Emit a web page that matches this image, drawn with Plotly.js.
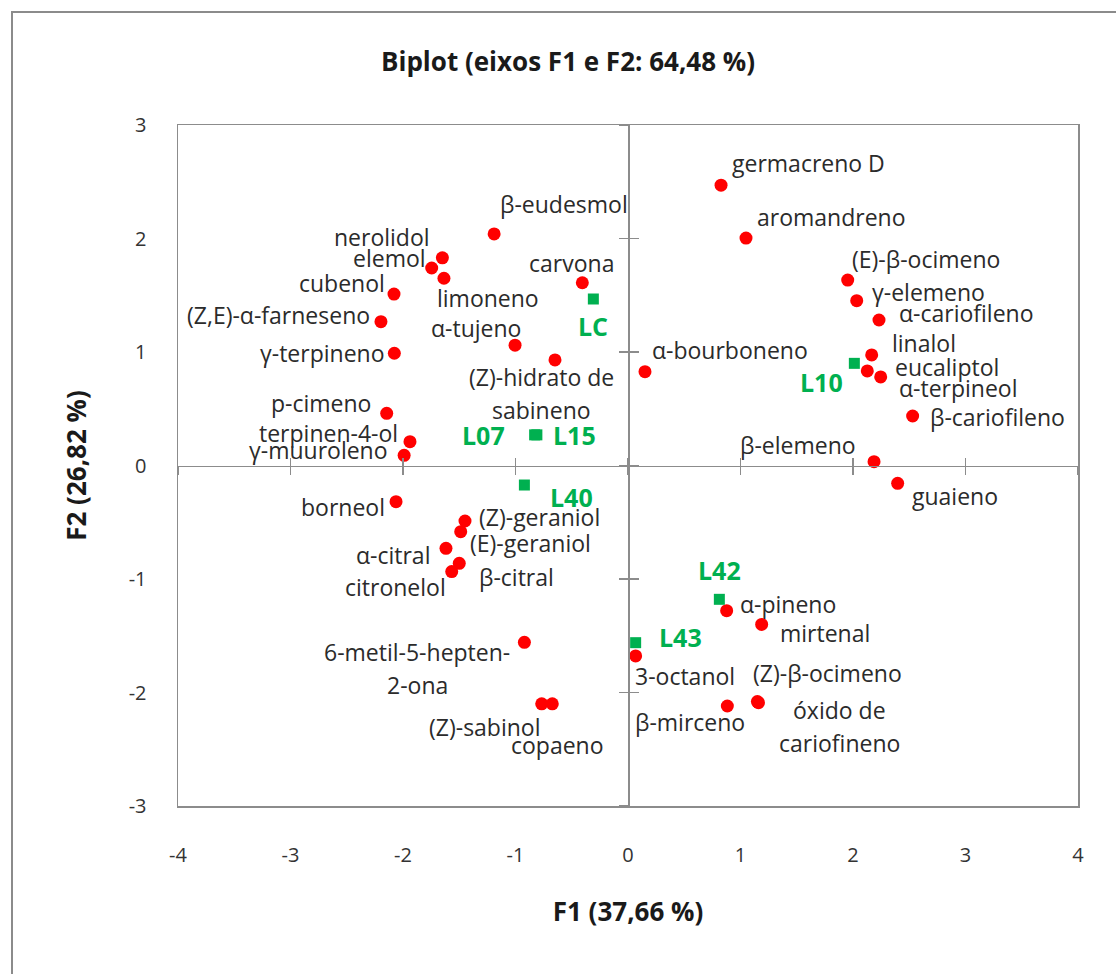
<!DOCTYPE html>
<html>
<head>
<meta charset="utf-8">
<script src="https://cdn.plot.ly/plotly-3.0.1.min.js"></script>
<style>
  html, body { margin: 0; padding: 0; background: #fff; overflow: hidden; }
  #chart { position: absolute; left: 0; top: 0; width: 1116px; height: 974px; }
  #frame { position: absolute; left: 11px; top: 11px; width: 1200px; height: 1100px;
           border: 2px solid #8b8b8b; pointer-events: none; }
</style>
</head>
<body>
<div id="chart"></div>
<div id="frame"></div>
<script>
// ---- data: variables (compounds) ----
const compounds = [
  'germacreno D', 'aromandreno', 'β-eudesmol', 'nerolidol', 'elemol', 'limoneno',
  'cubenol', '(Z,E)-α-farneseno', 'γ-terpineno', 'p-cimeno', 'terpinen-4-ol', 'γ-muuroleno',
  'carvona', 'α-tujeno', '(Z)-hidrato de<br>sabineno', 'α-bourboneno', '(E)-β-ocimeno', 'γ-elemeno',
  'α-cariofileno', 'linalol', 'eucaliptol', 'α-terpineol', 'β-cariofileno', 'β-elemeno',
  'guaieno', 'borneol', '(Z)-geraniol', '(E)-geraniol', 'α-citral', 'β-citral',
  'citronelol', '6-metil-5-hepten-<br>2-ona', '(Z)-sabinol', 'copaeno', 'α-pineno', 'mirtenal',
  '3-octanol', '(Z)-β-ocimeno', 'β-mirceno', 'óxido de<br>cariofineno'
];
const compF1 = [
  0.827, 1.049, -1.19, -1.65, -1.745, -1.636,
  -2.08, -2.196, -2.077, -2.145, -1.938, -1.99,
  -0.406, -1.004, -0.649, 0.151, 1.953, 2.033,
  2.231, 2.166, 2.127, 2.246, 2.53, 2.187,
  2.397, -2.062, -1.449, -1.487, -1.618, -1.5,
  -1.567, -0.921, -0.767, -0.673, 0.877, 1.188,
  0.068, 1.15, 0.883, 1.16
];
const compF2 = [
  2.47, 2.004, 2.04, 1.83, 1.74, 1.65,
  1.51, 1.267, 0.989, 0.46, 0.21, 0.09,
  1.61, 1.06, 0.93, 0.827, 1.634, 1.452,
  1.282, 0.974, 0.833, 0.78, 0.436, 0.034,
  -0.157, -0.319, -0.489, -0.583, -0.73, -0.862,
  -0.935, -1.558, -2.10, -2.10, -1.279, -1.40,
  -1.678, -2.08, -2.119, -2.09
];

// ---- data: observations (samples) ----
const samples = ['LC', 'L10', 'L07', 'L15', 'L40', 'L42', 'L43'];
const sampF1 = [-0.308, 2.012, -0.83, -0.81, -0.921, 0.812, 0.068];
const sampF2 = [1.467, 0.90, 0.27, 0.27, -0.172, -1.179, -1.561];

// ---- axis ticks ----
const xTicks = [-4, -3, -2, -1, 0, 1, 2, 3, 4];
const yTicks = [-3, -2, -1, 0, 1, 2, 3];

// ---- label placement (style: anchor, pixel shifts) ----
const compLabelPlace = [
  ['l', 9, 22], ['l', 9, 21], ['l', 4, 30], ['r', -10, 21], ['r', -4, 10], ['l', -9, -20],
  ['r', -7, 11], ['r', -9, 7], ['r', -7, 0], ['r', -14, 10], ['r', -10, 9], ['r', -14, 5],
  ['c', -11, 20], ['r', 8, 17], ['c', -13, -17], ['l', 5, 22], ['l', 2, 21], ['l', 13, 9],
  ['l', 18, 7], ['l', 18, 12], ['l', 26, 4], ['l', 16, -11], ['l', 15, -1], ['r', -16, 17],
  ['l', 12, -13], ['r', -9, -5], ['l', 12, 4], ['l', 7, -11], ['r', -14, -7], ['l', 18, -14],
  ['r', -4, -15], ['c', -107, -10], ['r', 1, -23], ['c', 5, -41], ['l', 11, 7], ['l', 16, -9],
  ['l', -3, -20], ['l', -6, 29], ['c', -37, -16], ['c', 81, -7]
];
const sampLabelPlace = [
  ['c', 0, -27], ['r', -9, -19], ['r', -28, 0], ['l', 14, 0], ['l', 24, -12], ['c', 0, 29], ['l', 21, 6]
];

const FONT = 'Open Sans, Liberation Sans, sans-serif';
const LINE_GAP = 33;
const anchorMap = { l: 'left', r: 'right', c: 'center' };

function buildLabels(names, xs, ys, places, color, size, bold) {
  const out = [];
  names.forEach((name, i) => {
    const [a, dx, dy] = places[i];
    const lines = name.split('<br>');
    lines.forEach((line, k) => {
      out.push({
        x: xs[i], y: ys[i], xref: 'x', yref: 'y',
        text: bold ? '<b>' + line + '</b>' : line,
        showarrow: false,
        xanchor: anchorMap[a], yanchor: 'middle',
        xshift: dx, yshift: dy - k * LINE_GAP,
        font: { family: FONT, size: size, color: color }
      });
    });
  });
  return out;
}

const annotations = []
  .concat(buildLabels(compounds, compF1, compF2, compLabelPlace, '#2b2b2b', 23, false))
  .concat(buildLabels(samples, sampF1, sampF2, sampLabelPlace, '#00b050', 25, true));

const axisColor = '#8c8c8c';

const traces = [
  {
    type: 'scatter', mode: 'markers', name: 'Variáveis',
    x: compF1, y: compF2, text: compounds,
    marker: { color: '#ff0000', size: 13, symbol: 'circle' },
    hoverinfo: 'text+x+y'
  },
  {
    type: 'scatter', mode: 'markers', name: 'Observações',
    x: sampF1, y: sampF2, text: samples,
    marker: { color: '#00b050', size: 11, symbol: 'square' },
    hoverinfo: 'text+x+y'
  },
  { type: 'scatter', x: [], y: [], xaxis: 'x2', yaxis: 'y', showlegend: false, hoverinfo: 'skip' },
  { type: 'scatter', x: [], y: [], xaxis: 'x3', yaxis: 'y', showlegend: false, hoverinfo: 'skip' },
  { type: 'scatter', x: [], y: [], xaxis: 'x', yaxis: 'y2', showlegend: false, hoverinfo: 'skip' },
  { type: 'scatter', x: [], y: [], xaxis: 'x', yaxis: 'y3', showlegend: false, hoverinfo: 'skip' }
];

const centerAxisX = (dir) => ({
  overlaying: 'x', anchor: 'free', position: 0.5, range: [-4, 4],
  tickmode: 'array', tickvals: xTicks,
  showline: true, linecolor: axisColor, linewidth: 1.5,
  ticks: dir, ticklen: 8, tickwidth: 1.5, tickcolor: axisColor,
  showticklabels: false, showgrid: false, zeroline: false, fixedrange: true
});
const centerAxisY = (dir) => ({
  overlaying: 'y', anchor: 'free', position: 0.5, range: [-3, 3],
  tickmode: 'array', tickvals: yTicks,
  showline: true, linecolor: axisColor, linewidth: 1.5,
  ticks: dir, ticklen: 9, tickwidth: 1.5, tickcolor: axisColor,
  showticklabels: false, showgrid: false, zeroline: false, fixedrange: true
});

const layout = {
  width: 1116, height: 974,
  margin: { l: 178, r: 38, t: 125, b: 168 },
  paper_bgcolor: '#ffffff', plot_bgcolor: '#ffffff',
  showlegend: false,
  title: {
    text: '<b>Biplot (eixos F1 e F2: 64,48 %)</b>',
    xref: 'container', yref: 'container', x: 0.509, y: 1 - 62 / 974,
    xanchor: 'center', yanchor: 'middle',
    font: { family: FONT, size: 26, color: '#1a1a1a' }
  },
  xaxis: {
    range: [-4, 4], tickmode: 'array', tickvals: xTicks, ticktext: xTicks.map(String),
    showline: true, mirror: true, linecolor: axisColor, linewidth: 1.5,
    ticks: '', showgrid: false, zeroline: false, fixedrange: true,
    ticklabelstandoff: 30,
    tickfont: { family: FONT, size: 20, color: '#333333' },
    title: { text: '<b>F1 (37,66 %)</b>', standoff: 36,
             font: { family: FONT, size: 26, color: '#1a1a1a' } }
  },
  yaxis: {
    range: [-3, 3], tickmode: 'array', tickvals: yTicks, ticktext: yTicks.map(String),
    showline: true, mirror: true, linecolor: axisColor, linewidth: 1.5,
    ticks: '', showgrid: false, zeroline: false, fixedrange: true,
    ticklabelstandoff: 26,
    tickfont: { family: FONT, size: 20, color: '#333333' },
    title: { text: '<b>F2 (26,82 %)</b>', standoff: 34,
             font: { family: FONT, size: 26, color: '#1a1a1a' } }
  },
  xaxis2: centerAxisX('outside'),
  xaxis3: centerAxisX('inside'),
  yaxis2: centerAxisY('outside'),
  yaxis3: centerAxisY('inside'),
  annotations: annotations
};

Plotly.newPlot('chart', traces, layout, { displayModeBar: false, staticPlot: true });
</script>
</body>
</html>
